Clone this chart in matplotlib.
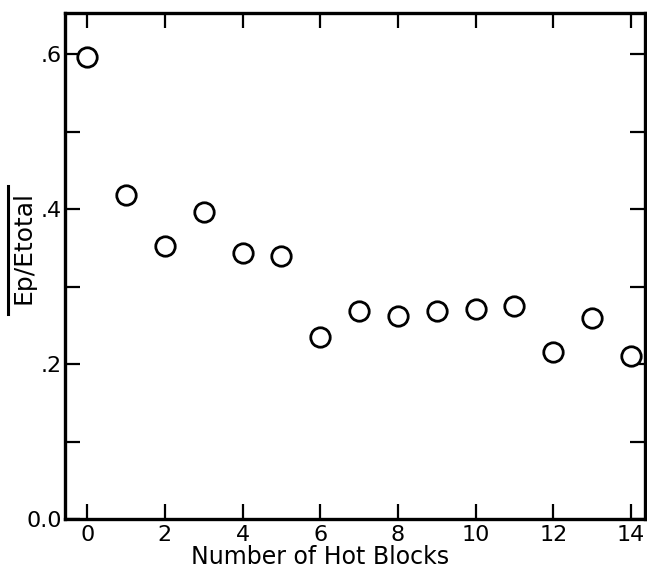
import numpy as np
import matplotlib
matplotlib.use("Agg")
import matplotlib.pyplot as plt
from matplotlib.lines import Line2D

# number of hot blocks vs mean energy fraction
hot_blocks = [0, 1, 2, 3, 4, 5, 6, 7, 8, 9, 10, 11, 12, 13, 14]
ep_ratio = [0.596, 0.418, 0.352, 0.397, 0.343, 0.340, 0.235, 0.268,
            0.262, 0.269, 0.271, 0.275, 0.216, 0.260, 0.210]

x_ticks = [0, 2, 4, 6, 8, 10, 12, 14]
y_ticks = [0.0, 0.2, 0.4, 0.6]
y_tick_labels = ["0.0", ".2", ".4", ".6"]
y_minor = [0.1, 0.3, 0.5]

plt.rcParams['font.family'] = ['DejaVu Sans']

W, H = 647, 576
fig = plt.figure(figsize=(W / 100, H / 100), dpi=100)
ax = fig.add_axes([0.1005, 0.099, 0.897, 0.878])

ax.plot(hot_blocks, ep_ratio, linestyle='none', marker='o', ms=14,
        mfc='white', mec='black', mew=2.0, clip_on=False)

ax.set_xlim(-0.57, 14.37)
ax.set_ylim(0, 0.653)

for s in ax.spines.values():
    s.set_linewidth(2.4)

ax.set_xticks(x_ticks)
ax.set_yticks(y_ticks)
ax.set_yticklabels(y_tick_labels)
ax.set_yticks(y_minor, minor=True)
ax.tick_params(axis='both', which='both', direction='in', width=1.6,
               length=11, labelsize=16, top=True, right=True, pad=4)
ax.tick_params(axis='y', which='major', pad=2)
ax.tick_params(axis='y', which='both', right=True, labelright=False)

ax.text(0.44, -0.075, "Number of Hot Blocks", transform=ax.transAxes,
        ha='center', va='center', fontsize=17)

# y label with a bar over it (mean value)
fig.text(24 / W, 1 - 247 / H, "Ep/Etotal", rotation=90,
         ha='center', va='center', fontsize=18)
fig.add_artist(Line2D([8 / W, 8 / W], [1 - 314 / H, 1 - 186 / H],
                      color='black', lw=2.2, transform=fig.transFigure))

fig.savefig("out.png", dpi=100)
